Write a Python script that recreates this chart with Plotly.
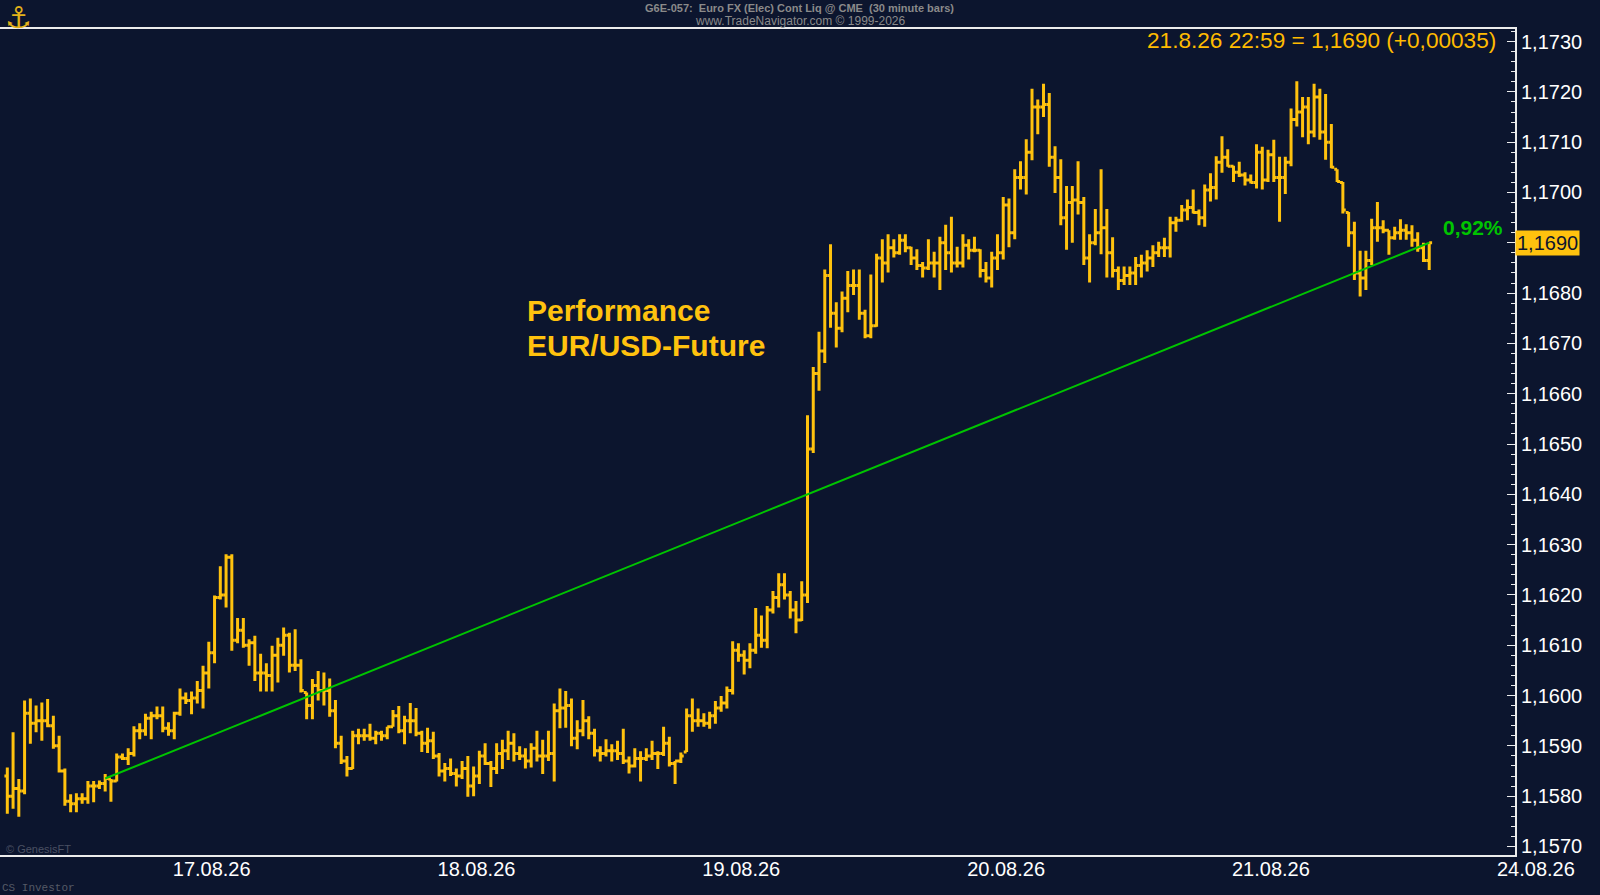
import plotly.graph_objects as go

# ---------------- data (30-minute bars) ----------------
bar_index = list(range(248))

opens = [
    1.15840, 1.15800, 1.15815, 1.15810, 1.15965, 1.15945, 1.15950, 1.15950, 1.15940, 1.15900,
    1.15850, 1.15790, 1.15785, 1.15795, 1.15795, 1.15820, 1.15820, 1.15825, 1.15834, 1.15830,
    1.15878, 1.15875, 1.15885, 1.15930, 1.15930, 1.15955, 1.15960, 1.15960, 1.15935, 1.15930,
    1.15965, 1.15995, 1.15990, 1.15995, 1.16010, 1.16045, 1.16085, 1.16195, 1.16200, 1.16275,
    1.16110, 1.16130, 1.16100, 1.16105, 1.16045, 1.16045, 1.16040, 1.16080, 1.16100, 1.16120,
    1.16060, 1.16060, 1.16006, 1.15980, 1.16020, 1.16010, 1.16010, 1.15970, 1.15905, 1.15870,
    1.15855, 1.15920, 1.15920, 1.15920, 1.15915, 1.15925, 1.15920, 1.15938, 1.15960, 1.15930,
    1.15950, 1.15950, 1.15925, 1.15905, 1.15910, 1.15880, 1.15850, 1.15855, 1.15845, 1.15840,
    1.15855, 1.15820, 1.15840, 1.15880, 1.15865, 1.15855, 1.15885, 1.15890, 1.15905, 1.15885,
    1.15880, 1.15870, 1.15895, 1.15880, 1.15880, 1.15885, 1.15970, 1.15975, 1.15980, 1.15915,
    1.15930, 1.15950, 1.15925, 1.15890, 1.15885, 1.15890, 1.15890, 1.15885, 1.15870, 1.15860,
    1.15875, 1.15875, 1.15880, 1.15885, 1.15885, 1.15905, 1.15865, 1.15870, 1.15888, 1.15960,
    1.15950, 1.15950, 1.15945, 1.15960, 1.15975, 1.15985, 1.16010, 1.16090, 1.16080, 1.16070,
    1.16090, 1.16120, 1.16110, 1.16170, 1.16195, 1.16220, 1.16200, 1.16170, 1.16150, 1.16200,
    1.16490, 1.16640, 1.16685, 1.16835, 1.16760, 1.16730, 1.16790, 1.16815, 1.16815, 1.16760,
    1.16715, 1.16735, 1.16870, 1.16860, 1.16890, 1.16880, 1.16905, 1.16890, 1.16870, 1.16855,
    1.16850, 1.16860, 1.16860, 1.16900, 1.16880, 1.16860, 1.16860, 1.16895, 1.16885, 1.16885,
    1.16845, 1.16830, 1.16870, 1.16880, 1.16975, 1.16920, 1.17030, 1.17030, 1.17080, 1.17170,
    1.17170, 1.17175, 1.17070, 1.17030, 1.16950, 1.16980, 1.16985, 1.16980, 1.16870, 1.16900,
    1.16920, 1.16930, 1.16880, 1.16845, 1.16825, 1.16835, 1.16840, 1.16855, 1.16860, 1.16870,
    1.16880, 1.16890, 1.16890, 1.16940, 1.16945, 1.16965, 1.16970, 1.16960, 1.16950, 1.17005,
    1.17010, 1.17060, 1.17070, 1.17052, 1.17040, 1.17035, 1.17025, 1.17020, 1.17080, 1.17025,
    1.17075, 1.17030, 1.17030, 1.17060, 1.17145, 1.17160, 1.17170, 1.17120, 1.17190, 1.17120,
    1.17100, 1.17046, 1.17020, 1.16960, 1.16920, 1.16840, 1.16830, 1.16865, 1.16930, 1.16930,
    1.16925, 1.16910, 1.16920, 1.16925, 1.16920, 1.16905, 1.16890, 1.16865,
]

highs = [
    1.15857, 1.15927, 1.15834, 1.15990, 1.15994, 1.15980, 1.15986, 1.15993, 1.15960, 1.15920,
    1.15855, 1.15804, 1.15806, 1.15806, 1.15830, 1.15830, 1.15831, 1.15844, 1.15834, 1.15885,
    1.15885, 1.15895, 1.15939, 1.15945, 1.15964, 1.15968, 1.15978, 1.15978, 1.15947, 1.15968,
    1.16014, 1.16006, 1.16008, 1.16029, 1.16059, 1.16107, 1.16199, 1.16257, 1.16281, 1.16281,
    1.16154, 1.16154, 1.16112, 1.16119, 1.16083, 1.16064, 1.16099, 1.16115, 1.16135, 1.16125,
    1.16132, 1.16072, 1.16006, 1.16033, 1.16049, 1.16046, 1.16034, 1.15991, 1.15920, 1.15880,
    1.15930, 1.15934, 1.15934, 1.15944, 1.15930, 1.15930, 1.15938, 1.15971, 1.15979, 1.15960,
    1.15985, 1.15975, 1.15930, 1.15936, 1.15928, 1.15886, 1.15866, 1.15875, 1.15855, 1.15870,
    1.15880, 1.15859, 1.15890, 1.15905, 1.15870, 1.15905, 1.15912, 1.15930, 1.15925, 1.15899,
    1.15895, 1.15905, 1.15930, 1.15912, 1.15930, 1.15984, 1.16014, 1.16009, 1.15994, 1.15951,
    1.15991, 1.15959, 1.15934, 1.15899, 1.15913, 1.15903, 1.15910, 1.15934, 1.15879, 1.15895,
    1.15889, 1.15895, 1.15910, 1.15889, 1.15938, 1.15918, 1.15870, 1.15887, 1.15974, 1.15994,
    1.15974, 1.15965, 1.15968, 1.15989, 1.15999, 1.16018, 1.16108, 1.16104, 1.16090, 1.16104,
    1.16174, 1.16159, 1.16178, 1.16208, 1.16243, 1.16243, 1.16208, 1.16188, 1.16227, 1.16557,
    1.16653, 1.16723, 1.16847, 1.16897, 1.16782, 1.16803, 1.16844, 1.16847, 1.16847, 1.16767,
    1.16837, 1.16878, 1.16907, 1.16917, 1.16907, 1.16917, 1.16917, 1.16892, 1.16887, 1.16862,
    1.16907, 1.16882, 1.16912, 1.16936, 1.16952, 1.16892, 1.16917, 1.16907, 1.16912, 1.16887,
    1.16862, 1.16882, 1.16917, 1.16991, 1.16988, 1.17046, 1.17062, 1.17106, 1.17206, 1.17185,
    1.17216, 1.17198, 1.17092, 1.17066, 1.17013, 1.17013, 1.17062, 1.16991, 1.16917, 1.16967,
    1.17046, 1.16967, 1.16911, 1.16853, 1.16853, 1.16853, 1.16872, 1.16876, 1.16885, 1.16895,
    1.16902, 1.16910, 1.16952, 1.16952, 1.16975, 1.16986, 1.17006, 1.16966, 1.17016, 1.17038,
    1.17072, 1.17112, 1.17086, 1.17053, 1.17061, 1.17040, 1.17036, 1.17096, 1.17091, 1.17085,
    1.17105, 1.17071, 1.17071, 1.17167, 1.17221, 1.17190, 1.17190, 1.17216, 1.17206, 1.17196,
    1.17136, 1.17046, 1.17021, 1.16961, 1.16942, 1.16884, 1.16884, 1.16948, 1.16981, 1.16945,
    1.16925, 1.16932, 1.16947, 1.16937, 1.16935, 1.16921, 1.16900, 1.16900,
]

lows = [
    1.15765, 1.15775, 1.15759, 1.15804, 1.15904, 1.15927, 1.15910, 1.15937, 1.15894, 1.15847,
    1.15781, 1.15768, 1.15768, 1.15785, 1.15785, 1.15788, 1.15814, 1.15809, 1.15789, 1.15829,
    1.15872, 1.15862, 1.15879, 1.15913, 1.15920, 1.15913, 1.15953, 1.15927, 1.15920, 1.15913,
    1.15960, 1.15983, 1.15963, 1.15984, 1.15974, 1.16014, 1.16064, 1.16191, 1.16175, 1.16089,
    1.16104, 1.16095, 1.16059, 1.16029, 1.16008, 1.16008, 1.16008, 1.16026, 1.16079, 1.16046,
    1.16049, 1.16006, 1.15953, 1.15953, 1.15990, 1.15980, 1.15958, 1.15895, 1.15864, 1.15839,
    1.15854, 1.15903, 1.15910, 1.15910, 1.15903, 1.15910, 1.15913, 1.15938, 1.15925, 1.15903,
    1.15925, 1.15919, 1.15888, 1.15886, 1.15874, 1.15839, 1.15829, 1.15840, 1.15819, 1.15834,
    1.15799, 1.15800, 1.15824, 1.15862, 1.15818, 1.15844, 1.15854, 1.15872, 1.15869, 1.15872,
    1.15855, 1.15857, 1.15869, 1.15844, 1.15870, 1.15829, 1.15935, 1.15936, 1.15899, 1.15893,
    1.15919, 1.15913, 1.15879, 1.15869, 1.15879, 1.15869, 1.15872, 1.15864, 1.15845, 1.15857,
    1.15829, 1.15870, 1.15872, 1.15854, 1.15880, 1.15859, 1.15824, 1.15866, 1.15888, 1.15928,
    1.15938, 1.15938, 1.15934, 1.15944, 1.15968, 1.15974, 1.16002, 1.16067, 1.16042, 1.16054,
    1.16083, 1.16095, 1.16094, 1.16163, 1.16175, 1.16191, 1.16153, 1.16124, 1.16148, 1.16184,
    1.16482, 1.16606, 1.16661, 1.16731, 1.16692, 1.16722, 1.16762, 1.16796, 1.16747, 1.16710,
    1.16710, 1.16733, 1.16821, 1.16841, 1.16871, 1.16876, 1.16881, 1.16856, 1.16846, 1.16831,
    1.16846, 1.16831, 1.16806, 1.16846, 1.16841, 1.16851, 1.16851, 1.16867, 1.16881, 1.16831,
    1.16821, 1.16811, 1.16846, 1.16867, 1.16891, 1.16907, 1.17006, 1.16996, 1.17064, 1.17116,
    1.17150, 1.17051, 1.16999, 1.16935, 1.16886, 1.16900, 1.16956, 1.16856, 1.16821, 1.16895,
    1.16877, 1.16831, 1.16831, 1.16806, 1.16816, 1.16816, 1.16816, 1.16831, 1.16843, 1.16852,
    1.16872, 1.16872, 1.16871, 1.16922, 1.16942, 1.16945, 1.16958, 1.16935, 1.16932, 1.16982,
    1.16986, 1.17039, 1.17051, 1.17021, 1.17031, 1.17014, 1.17018, 1.17008, 1.17006, 1.17021,
    1.17021, 1.16942, 1.16997, 1.17052, 1.17131, 1.17110, 1.17096, 1.17110, 1.17105, 1.17065,
    1.17048, 1.17021, 1.16958, 1.16892, 1.16826, 1.16793, 1.16806, 1.16856, 1.16902, 1.16919,
    1.16876, 1.16906, 1.16906, 1.16906, 1.16892, 1.16882, 1.16862, 1.16846,
]

closes = [
    1.15800, 1.15815, 1.15810, 1.15965, 1.15945, 1.15950, 1.15950, 1.15940, 1.15900, 1.15850,
    1.15790, 1.15785, 1.15795, 1.15795, 1.15820, 1.15820, 1.15825, 1.15835, 1.15830, 1.15878,
    1.15875, 1.15885, 1.15930, 1.15930, 1.15955, 1.15960, 1.15960, 1.15935, 1.15930, 1.15965,
    1.15995, 1.15990, 1.15995, 1.16010, 1.16045, 1.16085, 1.16195, 1.16200, 1.16275, 1.16110,
    1.16130, 1.16100, 1.16105, 1.16045, 1.16045, 1.16040, 1.16080, 1.16100, 1.16120, 1.16060,
    1.16060, 1.16010, 1.15980, 1.16020, 1.16010, 1.16010, 1.15970, 1.15905, 1.15870, 1.15855,
    1.15920, 1.15920, 1.15920, 1.15915, 1.15925, 1.15920, 1.15938, 1.15960, 1.15930, 1.15950,
    1.15950, 1.15925, 1.15905, 1.15910, 1.15880, 1.15850, 1.15855, 1.15845, 1.15840, 1.15855,
    1.15820, 1.15840, 1.15880, 1.15865, 1.15855, 1.15885, 1.15890, 1.15905, 1.15885, 1.15880,
    1.15870, 1.15895, 1.15880, 1.15880, 1.15885, 1.15970, 1.15975, 1.15980, 1.15915, 1.15930,
    1.15950, 1.15925, 1.15890, 1.15885, 1.15890, 1.15890, 1.15885, 1.15870, 1.15860, 1.15875,
    1.15875, 1.15880, 1.15885, 1.15885, 1.15905, 1.15865, 1.15870, 1.15880, 1.15960, 1.15950,
    1.15950, 1.15945, 1.15960, 1.15975, 1.15985, 1.16010, 1.16090, 1.16080, 1.16070, 1.16090,
    1.16120, 1.16110, 1.16170, 1.16195, 1.16220, 1.16200, 1.16170, 1.16150, 1.16200, 1.16490,
    1.16640, 1.16685, 1.16835, 1.16760, 1.16730, 1.16790, 1.16815, 1.16815, 1.16760, 1.16715,
    1.16735, 1.16870, 1.16860, 1.16890, 1.16880, 1.16905, 1.16890, 1.16870, 1.16855, 1.16850,
    1.16860, 1.16860, 1.16900, 1.16880, 1.16860, 1.16860, 1.16895, 1.16885, 1.16885, 1.16845,
    1.16830, 1.16870, 1.16880, 1.16975, 1.16920, 1.17030, 1.17030, 1.17080, 1.17170, 1.17170,
    1.17175, 1.17070, 1.17030, 1.16950, 1.16980, 1.16985, 1.16980, 1.16870, 1.16900, 1.16920,
    1.16930, 1.16880, 1.16845, 1.16825, 1.16835, 1.16840, 1.16855, 1.16860, 1.16870, 1.16880,
    1.16890, 1.16890, 1.16940, 1.16945, 1.16965, 1.16970, 1.16960, 1.16950, 1.17005, 1.17010,
    1.17060, 1.17070, 1.17052, 1.17040, 1.17035, 1.17025, 1.17020, 1.17080, 1.17025, 1.17075,
    1.17030, 1.17030, 1.17060, 1.17145, 1.17160, 1.17170, 1.17120, 1.17190, 1.17120, 1.17100,
    1.17050, 1.17022, 1.16965, 1.16920, 1.16840, 1.16830, 1.16865, 1.16930, 1.16930, 1.16925,
    1.16910, 1.16920, 1.16925, 1.16920, 1.16905, 1.16890, 1.16865, 1.16900,
]

day_tick_positions = [35.5, 81.5, 127.5, 173.5, 219.5, 265.5]
day_tick_labels = ["17.08.26", "18.08.26", "19.08.26", "20.08.26", "21.08.26", "24.08.26"]

price_ticks = [1.157, 1.158, 1.159, 1.160, 1.161, 1.162, 1.163, 1.164, 1.165,
               1.166, 1.167, 1.168, 1.169, 1.170, 1.171, 1.172, 1.173]

trend_start = 17                 # bar where the green performance line starts
last_bar_label = "21.8.26 22:59"
last_change = 0.00035

# ---------------- style ----------------
BG = "#0c152e"
BAR = "#ffc20e"
TXT_ORANGE = "#ffbb00"
GREEN = "#00c400"
AXIS = "#ececec"
FONT = "Liberation Sans, Arial, Helvetica, sans-serif"

x_range = [-1.27, 261.9]
y_range = [1.15683, 1.17325]

PLOT_L, PLOT_R, PLOT_T, PLOT_B = 0, 1515, 29, 855
W, H = 1600, 895


def px_x(px):
    return (px - PLOT_L) / (PLOT_R - PLOT_L)


def px_y(py):
    return (PLOT_B - py) / (PLOT_B - PLOT_T)


def de(num, fmt):
    return format(num, fmt).replace(".", ",")


fig = go.Figure()

fig.add_trace(go.Ohlc(
    x=bar_index, open=opens, high=highs, low=lows, close=closes,
    increasing=dict(line=dict(color=BAR, width=3)),
    decreasing=dict(line=dict(color=BAR, width=3)),
    tickwidth=0.5, hoverinfo="skip", showlegend=False,
))

fig.add_trace(go.Scatter(
    x=[bar_index[trend_start], bar_index[-1]],
    y=[closes[trend_start], closes[-1]],
    mode="lines", line=dict(color=GREEN, width=2),
    hoverinfo="skip", showlegend=False,
))

in_range = [(p, t) for p, t in zip(day_tick_positions, day_tick_labels) if x_range[0] <= p <= x_range[1]]
out_range = [(p, t) for p, t in zip(day_tick_positions, day_tick_labels) if not (x_range[0] <= p <= x_range[1])]

fig.update_layout(
    width=W, height=H,
    margin=dict(l=PLOT_L, r=W - PLOT_R, t=PLOT_T, b=H - PLOT_B, pad=0),
    paper_bgcolor=BG, plot_bgcolor=BG,
    showlegend=False, separators=",.",
    font=dict(family=FONT, color="white"),
)

fig.update_xaxes(
    range=x_range, rangeslider_visible=False, showgrid=False, zeroline=False,
    showline=True, linecolor=AXIS, linewidth=2, mirror=True,
    ticks="", tickvals=[p for p, _ in in_range], ticktext=[t for _, t in in_range],
    ticklabelstandoff=-5,
    tickfont=dict(size=20, color="white", family=FONT),
)

# the tick label at the last price is covered by the price box
price_text = ["" if abs(v - closes[-1]) < 1e-9 else de(v, ".4f") for v in price_ticks]

fig.update_yaxes(
    range=y_range, side="right", showgrid=False, zeroline=False,
    showline=True, linecolor=AXIS, linewidth=2,
    ticks="inside", ticklen=8, tickwidth=1, tickcolor=AXIS,
    tickmode="array", tickvals=price_ticks, ticktext=price_text,
    tickfont=dict(size=20, color="white", family=FONT),
    minor=dict(ticks="inside", ticklen=4, tickwidth=1, tickcolor=AXIS,
               tickmode="linear", tick0=1.157, dtick=0.0002, showgrid=False),
)

ann = []

# date labels beyond the last bar
for p, t in out_range:
    ann.append(dict(xref="paper", yref="paper",
                    x=(p - x_range[0]) / (x_range[1] - x_range[0]), y=0,
                    yshift=-14, xanchor="center", yanchor="middle", showarrow=False,
                    text=t, font=dict(size=20, color="white", family=FONT)))

# last price box on the price scale
ann.append(dict(xref="paper", yref="y", x=1.0, y=closes[-1], xanchor="left", yanchor="middle",
                showarrow=False, text=de(closes[-1], ".4f"), bgcolor=BAR, borderpad=1,
                font=dict(size=20, color=BG, family=FONT)))

# last bar info line
ann.append(dict(xref="paper", yref="paper", x=px_x(1498), y=px_y(40.5), xanchor="right",
                yanchor="middle", showarrow=False,
                text=f"{last_bar_label} = {de(closes[-1], '.4f')} (+{de(last_change, '.5f')})",
                font=dict(size=22.6, color=TXT_ORANGE, family=FONT)))

# performance of the green line
perf = (closes[-1] / closes[trend_start] - 1) * 100
ann.append(dict(xref="paper", yref="paper", x=px_x(1473), y=px_y(228), xanchor="center",
                yanchor="middle", showarrow=False, text=f"<b>{de(perf, '.2f')}%</b>",
                font=dict(size=21, color=GREEN, family=FONT)))

# chart title inside the plot
ann.append(dict(xref="paper", yref="paper", x=px_x(525), y=px_y(310), xanchor="left",
                yanchor="middle", showarrow=False, text="<b>Performance</b>",
                font=dict(size=30, color=BAR, family=FONT)))
ann.append(dict(xref="paper", yref="paper", x=px_x(525), y=px_y(345), xanchor="left",
                yanchor="middle", showarrow=False, text="<b>EUR/USD-Future</b>",
                font=dict(size=30, color=BAR, family=FONT)))

# header
HDR_FONT = "Liberation Sans Narrow, Arial Narrow, Liberation Sans, sans-serif"
ann.append(dict(xref="paper", yref="paper", x=px_x(800), y=px_y(8), xanchor="center",
                yanchor="middle", showarrow=False,
                text="<b>G6E-057:  Euro FX (Elec) Cont Liq @ CME  (30 minute bars)</b>",
                font=dict(size=11, color="#8a8a8a", family=HDR_FONT)))
ann.append(dict(xref="paper", yref="paper", x=px_x(800), y=px_y(21), xanchor="center",
                yanchor="middle", showarrow=False,
                text="www.TradeNavigator.com © 1999-2026",
                font=dict(size=12, color="#8a8a8a", family=HDR_FONT)))

# logo glyph
ann.append(dict(xref="paper", yref="paper", x=px_x(18), y=px_y(17), xanchor="center",
                yanchor="middle", showarrow=False, text="⚓",
                font=dict(size=30, color="#e3b21a", family="DejaVu Sans")))

# footers
ann.append(dict(xref="paper", yref="paper", x=px_x(4), y=px_y(849), xanchor="left",
                yanchor="middle", showarrow=False, text="© GenesisFT",
                font=dict(size=11, color="#4a5062", family=FONT)))
ann.append(dict(xref="paper", yref="paper", x=px_x(0), y=px_y(888), xanchor="left",
                yanchor="middle", showarrow=False, text="CS Investor",
                font=dict(size=11, color="#555a66", family="Liberation Mono, Courier New, monospace")))

fig.update_layout(annotations=ann)

fig.write_html(
    "out.html",
    config={"displayModeBar": False},
    post_script="document.body.style.margin='0px';document.body.style.overflow='hidden';",
)
